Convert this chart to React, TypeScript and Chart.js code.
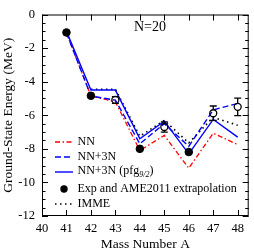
import React, { useEffect, useRef } from 'react';
import { Chart, registerables } from 'chart.js';

Chart.register(...registerables);

const massNumbers = [41, 42, 43, 44, 45, 46, 47, 48];
const nnValues = [-1.1, -4.85, -5.2, -8.1, -7.2, -9.15, -7.07, -7.75];
const nn3nValues = [-1.1, -4.85, -5.1, -7.7, -6.5, -7.85, -5.68, -5.3];
const pfgValues = [-1.0, -4.5, -4.5, -7.4, -6.35, -8.3, -6.25, -7.3];
const immeMass = [42, 43, 44, 45, 46, 47, 48];
const immeValues = [-4.45, -4.45, -7.25, -6.3, -7.65, -6.12, -6.6];
const expMass = [41, 42, 44, 46];
const expValues = [-1.07, -4.84, -8.0, -8.19];
const extrapMass = [43, 45, 47, 48];
const extrapValues = [-5.09, -6.7, -5.88, -5.5];
const extrapErrors = [0.2, 0.3, 0.43, 0.52];
const xTickValues = [40, 41, 42, 43, 44, 45, 46, 47, 48];
const yMajorTicks = [-12, -10, -8, -6, -4, -2, 0];

const SERIF = "'Liberation Serif', 'Times New Roman', serif";
const RED = '#ff0000';
const BLUE = '#0000ff';
const NN_DASH = [5, 2.5, 1.5, 2.5];
const NN3N_DASH = [6, 3];
const IMME_DASH = [1.5, 3.5];

const pts = (xs: number[], ys: number[]) => xs.map((x, i) => ({ x, y: ys[i] }));

const decorPlugin = {
  id: 'decor',
  afterDatasetsDraw(chart: any) {
    const ctx = chart.ctx;
    const xs = chart.scales.x;
    const ys = chart.scales.y;
    ctx.save();
    ctx.strokeStyle = '#000';
    ctx.lineWidth = 1.3;
    ctx.setLineDash([]);
    extrapMass.forEach((m, i) => {
      const px = xs.getPixelForValue(m);
      const top = ys.getPixelForValue(extrapValues[i] + extrapErrors[i]);
      const bot = ys.getPixelForValue(extrapValues[i] - extrapErrors[i]);
      const c = ys.getPixelForValue(extrapValues[i]);
      ctx.beginPath();
      ctx.moveTo(px, top);
      ctx.lineTo(px, c - 3.5);
      ctx.moveTo(px, c + 3.5);
      ctx.lineTo(px, bot);
      ctx.moveTo(px - 3.5, top);
      ctx.lineTo(px + 3.5, top);
      ctx.moveTo(px - 3.5, bot);
      ctx.lineTo(px + 3.5, bot);
      ctx.stroke();
    });
    ctx.restore();
  },
  afterDraw(chart: any) {
    const ctx = chart.ctx;
    const a = chart.chartArea;
    const xs = chart.scales.x;
    const ys = chart.scales.y;
    ctx.save();
    ctx.setLineDash([]);
    ctx.strokeStyle = '#000';
    ctx.lineWidth = 1;
    ctx.strokeRect(a.left + 0.5, a.top + 0.5, a.right - a.left - 1, a.bottom - a.top - 1);
    ctx.beginPath();
    xTickValues.forEach((v) => {
      const px = Math.round(xs.getPixelForValue(v)) + 0.5;
      ctx.moveTo(px, a.bottom);
      ctx.lineTo(px, a.bottom - 6);
      ctx.moveTo(px, a.top);
      ctx.lineTo(px, a.top + 6);
    });
    for (let v = -12; v <= 0.001; v += 0.5) {
      const py = Math.round(ys.getPixelForValue(v)) + 0.5;
      const major = Math.abs(v % 2) < 1e-6;
      const len = major ? 6 : 3.5;
      ctx.moveTo(a.left, py);
      ctx.lineTo(a.left + len, py);
      ctx.moveTo(a.right, py);
      ctx.lineTo(a.right - len, py);
    }
    ctx.stroke();

    ctx.fillStyle = '#000';
    ctx.font = `13.5px ${SERIF}`;
    ctx.textAlign = 'center';
    ctx.textBaseline = 'middle';
    ctx.fillText('Mass Number A', (a.left + a.right) / 2, 244);
    ctx.save();
    ctx.translate(8, (a.top + a.bottom) / 2);
    ctx.rotate(-Math.PI / 2);
    ctx.fillText('Ground-State Energy (MeV)', 0, 0);
    ctx.restore();
    ctx.font = `14px ${SERIF}`;
    ctx.fillText('N=20', 150, 27);

    // legend
    const x0 = 55;
    const x1 = 73;
    const tx = 77.5;
    const rows = [142, 157, 172, 189, 204];
    ctx.lineWidth = 1.4;
    const line = (y: number, color: string, dash: number[]) => {
      ctx.strokeStyle = color;
      ctx.setLineDash(dash);
      ctx.beginPath();
      ctx.moveTo(x0, y);
      ctx.lineTo(x1, y);
      ctx.stroke();
    };
    line(rows[0], RED, NN_DASH);
    line(rows[1], BLUE, NN3N_DASH);
    line(rows[2], BLUE, []);
    ctx.setLineDash([]);
    ctx.fillStyle = '#000';
    ctx.beginPath();
    ctx.arc(64, rows[3], 3.7, 0, Math.PI * 2);
    ctx.fill();
    ctx.strokeStyle = '#000';
    ctx.lineWidth = 1.6;
    line(rows[4], '#000', IMME_DASH);
    ctx.setLineDash([]);

    ctx.fillStyle = '#000';
    ctx.textAlign = 'left';
    ctx.textBaseline = 'middle';
    ctx.font = `12px ${SERIF}`;
    ctx.fillText('NN', tx, rows[0]);
    ctx.fillText('NN+3N', tx, rows[1]);
    const base = 'NN+3N (pfg';
    ctx.fillText(base, tx, rows[2] - 1);
    let cx = tx + ctx.measureText(base).width;
    ctx.font = `italic 8px ${SERIF}`;
    ctx.fillText('9/2', cx, rows[2] + 3);
    cx += ctx.measureText('9/2').width;
    ctx.font = `12px ${SERIF}`;
    ctx.fillText(')', cx, rows[2] - 1);
    ctx.fillText('Exp and AME2011 extrapolation', tx, rows[3]);
    ctx.fillText('IMME', tx, rows[4]);
    ctx.restore();
  },
};

export default function App() {
  const ref = useRef<HTMLCanvasElement | null>(null);
  useEffect(() => {
    document.body.style.margin = '0';
    const canvas = ref.current;
    if (!canvas) return;
    const chart = new Chart(canvas, {
      type: 'line',
      data: {
        datasets: [
          {
            label: 'Exp and AME2011 extrapolation',
            data: pts(expMass, expValues),
            showLine: false,
            pointRadius: 3.8,
            pointBackgroundColor: '#000',
            pointBorderColor: '#000',
            borderColor: '#000',
            order: 0,
          },
          {
            label: 'AME2011 extrapolation',
            data: pts(extrapMass, extrapValues),
            showLine: false,
            pointRadius: 3.5,
            pointBorderWidth: 1.3,
            pointBackgroundColor: 'rgba(0,0,0,0)',
            pointBorderColor: '#000',
            borderColor: '#000',
            order: 1,
          },
          {
            label: 'NN+3N (pfg9/2)',
            data: pts(massNumbers, pfgValues),
            borderColor: BLUE,
            borderWidth: 1.4,
            pointRadius: 0,
            tension: 0,
            order: 2,
          },
          {
            label: 'NN+3N',
            data: pts(massNumbers, nn3nValues),
            borderColor: BLUE,
            borderDash: NN3N_DASH,
            borderWidth: 1.4,
            pointRadius: 0,
            tension: 0,
            order: 3,
          },
          {
            label: 'NN',
            data: pts(massNumbers, nnValues),
            borderColor: RED,
            borderDash: NN_DASH,
            borderWidth: 1.3,
            pointRadius: 0,
            tension: 0,
            order: 4,
          },
          {
            label: 'IMME',
            data: pts(immeMass, immeValues),
            borderColor: '#000',
            borderDash: IMME_DASH,
            borderWidth: 1.6,
            pointRadius: 0,
            tension: 0,
            order: 5,
          },
        ],
      },
      options: {
        animation: false,
        responsive: false,
        maintainAspectRatio: false,
        layout: { padding: { top: 6, right: 3, left: 0, bottom: 0 } },
        plugins: { legend: { display: false }, tooltip: { enabled: false } },
        scales: {
          x: {
            type: 'linear',
            min: 40,
            max: 48.45,
            grid: { display: false, drawTicks: false },
            border: { display: false },
            afterBuildTicks: (s: any) => {
              s.ticks = xTickValues.map((v) => ({ value: v }));
            },
            afterFit: (s: any) => {
              s.height = 36;
            },
            ticks: {
              autoSkip: false,
              maxRotation: 0,
              padding: 5,
              color: '#000',
              font: { family: SERIF, size: 12.5 },
            },
          },
          y: {
            type: 'linear',
            min: -12,
            max: 0,
            grid: { display: false, drawTicks: false },
            border: { display: false },
            afterBuildTicks: (s: any) => {
              s.ticks = yMajorTicks.map((v) => ({ value: v }));
            },
            afterFit: (s: any) => {
              s.width = 42;
            },
            ticks: {
              padding: 7,
              color: '#000',
              font: { family: SERIF, size: 12.5 },
            },
          },
        },
      },
      plugins: [decorPlugin],
    });
    return () => chart.destroy();
  }, []);
  return <canvas ref={ref} width={254} height={252} style={{ display: 'block' }} />;
}
